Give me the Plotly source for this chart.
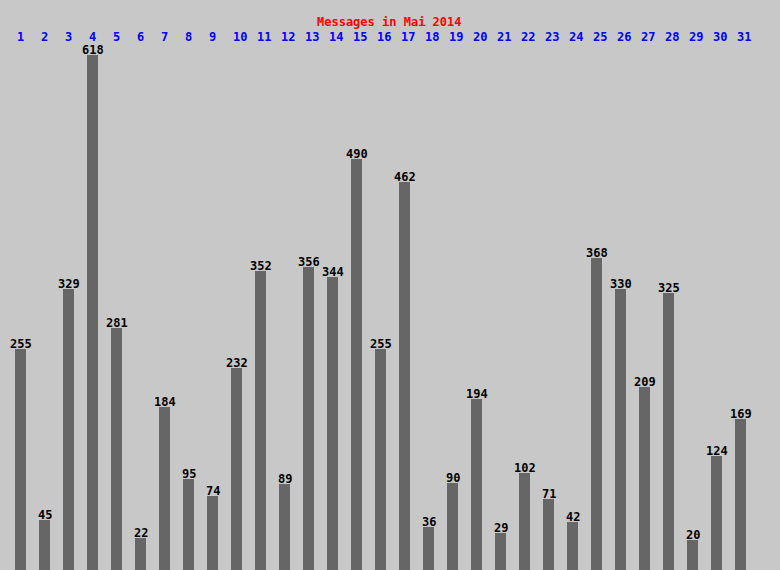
import plotly.graph_objects as go

days = list(range(1, 32))
day_labels = [str(d) for d in days]
messages = [255, 45, 329, 618, 281, 22, 184, 95, 74, 232, 352, 89, 356, 344, 490,
            255, 462, 36, 90, 194, 29, 102, 71, 42, 368, 330, 209, 325, 20, 124, 169]
title = "Messages in Mai 2014"

BG = "#c8c8c8"
BAR = "#666666"
FONT = "DejaVu Sans Mono"
bar_w = 11 / 24
Y0 = -16.99  # axis bottom (bars rise from below the visible area)

fig = go.Figure()
fig.add_trace(go.Bar(x=days, y=[v - Y0 for v in messages], base=Y0, width=bar_w,
                     marker=dict(color=BAR, line=dict(width=0)), hoverinfo="skip"))

annotations = []
for d, v in zip(days, messages):
    annotations.append(dict(x=d, y=v, xref="x", yref="y", text=str(v), showarrow=False,
                            yanchor="bottom", xanchor="center", yshift=-4,
                            font=dict(family=FONT, size=12, color="black", weight="bold")))
for d, lab in zip(days, day_labels):
    annotations.append(dict(x=d - bar_w / 2, y=37, xref="x", yref="paper", text=lab,
                            showarrow=False, xanchor="left", yanchor="middle",
                            font=dict(family=FONT, size=12, color="#0000ff", weight="bold")))
annotations.append(dict(x=389.5, y=22, xref="paper", yref="paper", text=title, showarrow=False,
                        xanchor="center", yanchor="middle",
                        font=dict(family=FONT, size=12, color="#ff0000", weight="bold")))
for a in annotations:
    if a["yref"] == "paper":
        a["y"] = 1 - a["y"] / 570
    if a["xref"] == "paper":
        a["x"] = a["x"] / 780

fig.update_layout(
    width=780, height=570,
    margin=dict(l=0, r=0, t=0, b=0),
    paper_bgcolor=BG, plot_bgcolor=BG,
    showlegend=False,
    annotations=annotations,
    xaxis=dict(range=[1 - 20.5 / 24, 1 + 759.5 / 24], visible=False, fixedrange=True),
    yaxis=dict(range=[Y0, 685.8], visible=False, fixedrange=True),
    bargap=0,
)
fig.write_html("out.html", config={"displayModeBar": False},
               post_script="document.body.style.margin='0';document.body.style.overflow='hidden';")
